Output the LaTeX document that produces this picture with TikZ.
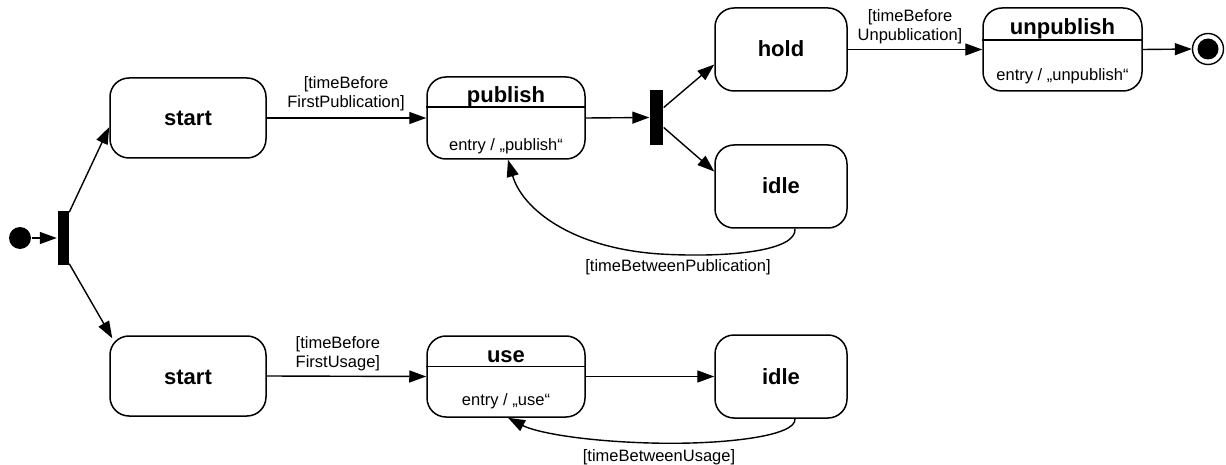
\documentclass[tikz,border=0pt]{standalone}
\usepackage{fontspec}
\setmainfont{Liberation Sans}
\usetikzlibrary{arrows.meta}
\begin{document}
\begin{tikzpicture}[x=1pt,y=-1pt,
  line width=1.4pt,
  statebox/.style={draw, line width=1.5pt, rounded corners=19pt, inner sep=0pt},
  forkbar/.style={fill=black, draw=none, inner sep=0pt, minimum width=11pt, minimum height=54pt},
  title/.style={font=\fontsize{22}{26}\selectfont\bfseries, inner sep=0pt, anchor=base},
  entrytxt/.style={font=\fontsize{16.5}{19}\selectfont, inner sep=0pt, anchor=base},
  guard/.style={font=\fontsize{16.5}{19}\selectfont, inner sep=0pt, align=center},
  arr/.style={-{Triangle[length=17pt,width=12pt]}, line width=1.4pt}
]
\useasboundingbox (0,0) rectangle (1226,465);

% initial and fork
\node[circle, fill=black, inner sep=0pt, minimum size=22pt] (init) at (20,238) {};
\node[forkbar] (bar1) at (63,238) {};

% states
\node[statebox, minimum width=156pt, minimum height=80pt] (start1) at (188,118) {};
\node[title] (start1t) at (188,126) {start};
\node[statebox, minimum width=156pt, minimum height=80pt] (start2) at (188,376) {};
\node[title] (start2t) at (188,384) {start};

\node[statebox, minimum width=158pt, minimum height=82pt] (pub) at (506,118) {};
\draw[line width=1.5pt] ([yshift=-31pt]pub.north west) -- ([yshift=-31pt]pub.north east);
\node[title] (pubt) at (506,103) {publish};
\node[entrytxt] (pube) at (506,151) {entry / „publish“};

\node[statebox, minimum width=158pt, minimum height=81pt] (use) at (506,376.5) {};
\draw[line width=1.5pt] ([yshift=-31pt]use.north west) -- ([yshift=-31pt]use.north east);
\node[title] (uset) at (506,362) {use};
\node[entrytxt] (usee) at (506,405) {entry / „use“};

\node[forkbar, minimum width=13pt, minimum height=55pt] (bar2) at (656.5,117.5) {};

\node[statebox, minimum width=132pt, minimum height=83pt] (hold) at (781,49.5) {};
\node[title] (holdt) at (781,57) {hold};
\node[statebox, minimum width=132pt, minimum height=83pt] (idle1) at (781,186.5) {};
\node[title] (idle1t) at (781,194) {idle};
\node[statebox, minimum width=132pt, minimum height=83pt] (idle2) at (781,376.5) {};
\node[title] (idle2t) at (781,384) {idle};

\node[statebox, minimum width=159pt, minimum height=83pt] (unpub) at (1062.5,49.5) {};
\draw[line width=1.5pt] ([yshift=-33pt]unpub.north west) -- ([yshift=-33pt]unpub.north east);
\node[title] (unpubt) at (1062.5,35) {unpublish};
\node[entrytxt] (unpube) at (1062.5,81) {entry / „unpublish“};

% final state
\node[circle, draw, line width=1.4pt, inner sep=0pt, minimum size=31pt] (final) at (1208,49) {};
\node[circle, fill=black, inner sep=0pt, minimum size=21pt] (finalin) at (final.center) {};

% connectors
\draw[arr] (init) -- (bar1);
\draw[arr] ([yshift=-2pt]bar1.north east) -- ([yshift=-9pt]start1.west);
\draw[arr] ([yshift=2pt]bar1.south east) -- ([xshift=3pt,yshift=-3pt]start2.north west);
\draw[arr] (start1.east) -- (pub.west);
\draw[arr] (start2.east) -- (use.west);
\draw[arr] (pub.east) -- (bar2.west);
\draw[arr] ([yshift=10pt]bar2.east) -- ([yshift=-15pt]hold.west);
\draw[arr] ([yshift=-10pt]bar2.east) -- ([yshift=15pt]idle1.west);
\draw[arr] (hold.east) -- (unpub.west);
\draw[arr] (unpub.east) -- (final.west);
\draw[arr] (use.east) -- (idle2.west);
\draw[arr] ([xshift=14pt]idle1.south) .. controls +(2,22) and (730,258) .. (660,254)
  .. controls (570,248) and (522,208) .. ([xshift=2pt]pub.south);
\draw[arr] ([xshift=14pt]idle2.south) .. controls +(2,18) and (720,445) .. (650,443)
  .. controls (580,441) and (535,432) .. ([xshift=2pt]use.south);

% guards
\node[guard, anchor=south] (g1) at (346,112) {[timeBefore\\FirstPublication]};
\node[guard, anchor=south] (g2) at (910,45) {[timeBefore\\Unpublication]};
\node[guard, align=left, anchor=south west] (g3) at (295,371.5) {[timeBefore\\FirstUsage]};
\node[guard, anchor=base] (g4) at (678,271) {[timeBetweenPublication]};
\node[guard, anchor=base] (g5) at (659,461) {[timeBetweenUsage]};
\end{tikzpicture}
\end{document}
